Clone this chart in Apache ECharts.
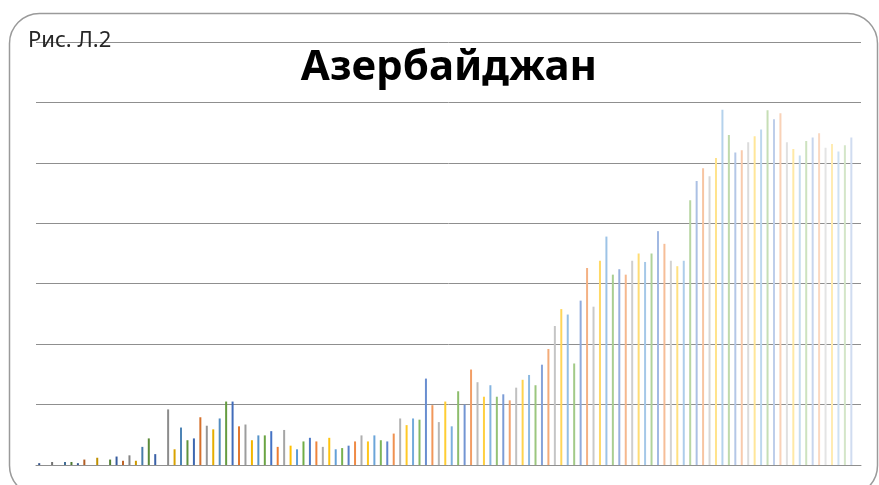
<!DOCTYPE html>
<html>
<head>
<meta charset="utf-8">
<script src="https://cdn.jsdelivr.net/npm/echarts@6/dist/echarts.min.js"></script>
<style>
  html, body { margin: 0; padding: 0; background: #fff; }
  #chart { width: 879px; height: 485px; }
</style>
</head>
<body>
<div id="chart"></div>
<script>
// значения столбцов (по делениям сетки, 10 единиц на линию)
const values = [
  0.3, 0, 0.5, 0, 0.5, 0.5, 0.3, 0.9, 0, 1.2,
  0, 0.9, 1.4, 0.7, 1.6, 0.7, 3.0, 4.4, 1.8, 0,
  9.2, 2.6, 6.2, 4.1, 4.4, 7.9, 6.5, 5.9, 7.7, 10.5,
  10.5, 6.4, 6.7, 4.1, 4.9, 4.9, 5.6, 3.0, 5.8, 3.2,
  2.6, 3.9, 4.5, 3.9, 3.0, 4.5, 2.6, 2.8, 3.2, 3.9,
  4.9, 3.9, 4.9, 4.1, 3.9, 5.2, 7.7, 6.6, 7.7, 7.5,
  14.3, 9.9, 7.1, 10.5, 6.4, 12.2, 10.0, 15.8, 13.7, 11.3,
  13.2, 11.3, 11.7, 10.7, 12.8, 14.1, 14.9, 13.2, 16.6, 19.2,
  23.0, 25.8, 24.9, 16.8, 27.2, 32.6, 26.2, 33.8, 37.8, 31.5,
  32.4, 31.5, 33.8, 35.0, 33.6, 35.0, 38.7, 36.6, 33.8, 32.9,
  33.8, 43.8, 47.0, 49.1, 47.8, 50.8, 58.8, 54.6, 51.7, 52.1,
  53.4, 54.4, 55.5, 58.7, 57.2, 58.2, 53.4, 52.3, 51.2, 53.6,
  54.2, 54.9, 52.5, 53.1, 51.9, 52.9, 54.2, 0
];
const categories = values.map((v, i) => String(i + 1));
const yTicks = [0, 10, 20, 30, 40, 50, 60, 70];

const title = 'Азербайджан';
const caption = 'Рис. Л.2';

// цвета как в Excel: 6 акцентов, оттенок меняется от тёмного к светлому
const palette = ['#4472C4', '#ED7D31', '#A5A5A5', '#FFC000', '#5B9BD5', '#70AD47'];
const shade = (hex, t) => {
  let c = [1, 3, 5].map(k => parseInt(hex.slice(k, k + 2), 16));
  c = c.map(v => t < 0 ? v * (1 + t) : v + (255 - v) * t);
  return 'rgb(' + c.map(v => Math.round(v)).join(',') + ')';
};
const lastGroup = Math.floor((values.length - 1) / 6);
const barData = values.map((v, i) => ({
  value: v,
  itemStyle: { color: shade(palette[i % 6], -0.3 + 1.05 * Math.floor(i / 6) / lastGroup) }
}));

const chart = echarts.init(document.getElementById('chart'));
chart.setOption({
  animation: false,
  grid: { left: 36, right: 18, top: 42, bottom: 20 },
  graphic: [
    {
      type: 'rect',
      shape: { x: 9.5, y: 13.5, width: 868, height: 482, r: 30 },
      style: { fill: 'none', stroke: '#9a9a9a', lineWidth: 1.5 },
      silent: true
    },
    {
      type: 'text',
      x: 28, y: 30,
      style: { text: caption, font: '22px "Noto Sans"', fill: '#262626' },
      z: 10
    },
    {
      type: 'text',
      x: 449, y: 47,
      style: { text: title, font: 'bold 42px "Noto Sans"', fill: '#000', textAlign: 'center' },
      z: 10
    }
  ],
  xAxis: {
    type: 'category',
    data: categories,
    axisTick: { show: false },
    axisLabel: { show: false },
    axisLine: { lineStyle: { color: '#8f8f8f', width: 1 } }
  },
  yAxis: {
    type: 'value',
    min: yTicks[0],
    max: yTicks[yTicks.length - 1],
    interval: 10,
    axisLabel: { show: false },
    axisLine: { show: false },
    axisTick: { show: false },
    splitLine: { lineStyle: { color: '#8f8f8f', width: 1 } }
  },
  series: [{
    type: 'bar',
    barWidth: 2,
    data: barData
  }]
});
</script>
</body>
</html>
